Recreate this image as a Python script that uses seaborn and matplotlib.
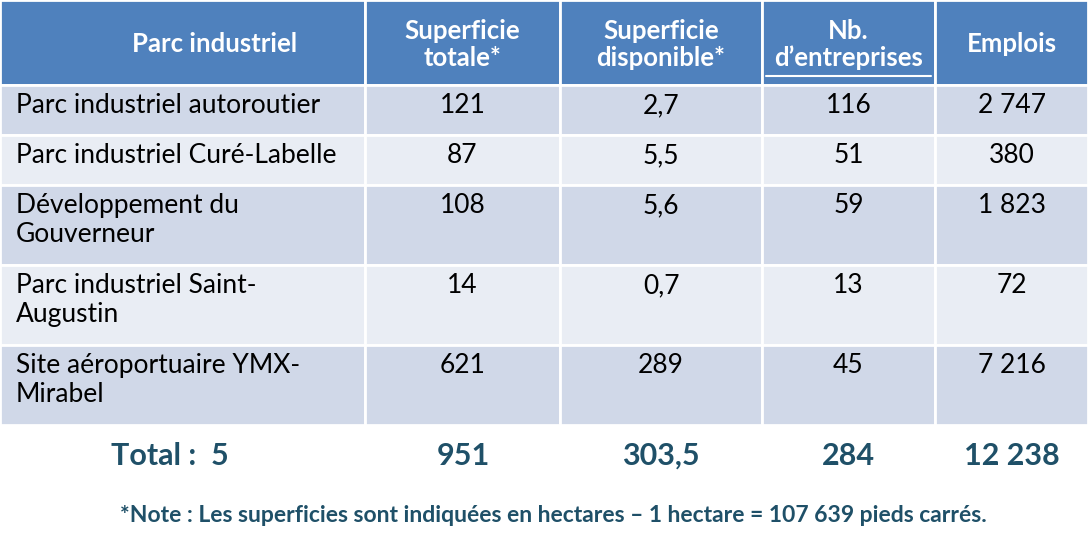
import matplotlib.pyplot as plt
import seaborn as sns
from matplotlib.patches import Rectangle

headers = ["Parc industriel", "Superficie\ntotale*", "Superficie\ndisponible*", "Nb.\nd\u2019entreprises", "Emplois"]
parcs = [
    "Parc industriel autoroutier",
    "Parc industriel Curé-Labelle",
    "Développement du\nGouverneur",
    "Parc industriel Saint-\nAugustin",
    "Site aéroportuaire YMX-\nMirabel",
]
superficie_totale = ["121", "87", "108", "14", "621"]
superficie_dispo = ["2,7", "5,5", "5,6", "0,7", "289"]
nb_entreprises = ["116", "51", "59", "13", "45"]
emplois = ["2 747", "380", "1 823", "72", "7 216"]
totaux = ["Total :  5", "951", "303,5", "284", "12 238"]
note = "*Note : Les superficies sont indiquées en hectares \u2013 1 hectare = 107 639 pieds carrés."

sns.set_theme(style="white")
plt.rcParams["font.family"] = ["Lato", "DejaVu Sans"]

col_edges = [0, 365, 560, 762, 935, 1088]
row_edges = [0, 85, 135, 185, 265, 345, 425]
head_col = "#4F81BD"
row_cols = ["#D0D8E8", "#E9EDF4"]
dark = "#1F5068"

fig = plt.figure(figsize=(10.88, 5.5), dpi=100)
ax = fig.add_axes([0, 0, 1, 1])
ax.set_xlim(0, 1088)
ax.set_ylim(550, 0)
ax.axis("off")

table_rows = list(zip(parcs, superficie_totale, superficie_dispo, nb_entreprises, emplois))
for r in range(len(row_edges) - 1):
    y0, y1 = row_edges[r], row_edges[r + 1]
    for c in range(len(col_edges) - 1):
        x0, x1 = col_edges[c], col_edges[c + 1]
        fc = head_col if r == 0 else row_cols[(r - 1) % 2]
        ax.add_patch(Rectangle((x0, y0), x1 - x0, y1 - y0, facecolor=fc,
                               edgecolor="white", linewidth=2))
        if r == 0:
            ax.text((x0 + x1) / 2 if c else 215, (y0 + y1) / 2 + 2, headers[c],
                    ha="center", va="center", color="white", fontsize=18.5,
                    fontweight="bold", linespacing=1.15)
        else:
            txt = table_rows[r - 1][c]
            if c == 0:
                ax.text(16, y0 + 8, txt, ha="left", va="top", fontsize=19,
                        color="black", linespacing=1.2)
            else:
                ax.text((x0 + x1) / 2, y0 + 8, txt, ha="center", va="top",
                        fontsize=19, color="black")

# underline under "d'entreprises"
ax.plot([766, 931], [76, 76], color="white", lw=1.5)

tot_x = [170, 463, 661, 848, 1012]
for x, t in zip(tot_x, totaux):
    ax.text(x, 456, t, ha="center", va="center", fontsize=22,
            fontweight="bold", color=dark)

ax.text(553, 515, note, ha="center", va="center", fontsize=16.5,
        fontweight="bold", color=dark)

fig.savefig("out.png", dpi=100)
